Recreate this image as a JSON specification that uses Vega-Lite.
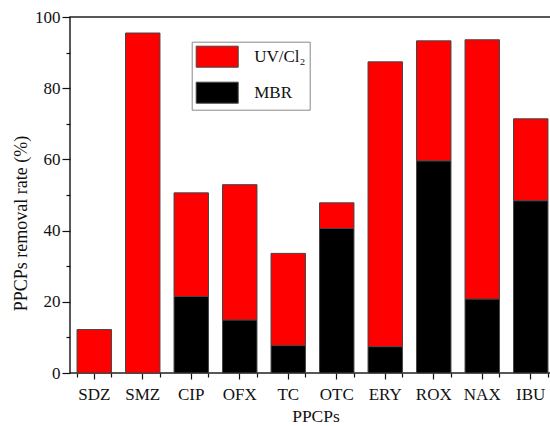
{
  "$schema": "https://vega.github.io/schema/vega-lite/v6.json",
  "autosize": {"type": "none"},
  "padding": {"left": 70, "top": 17, "right": 0, "bottom": 53},
  "width": 485,
  "height": 356,
  "background": "white",
  "config": {
    "font": "Liberation Serif",
    "view": {"stroke": "#222", "strokeWidth": 1.5},
    "axis": {"grid": false, "domain": false, "tickColor": "#111", "tickWidth": 1.2, "labelColor": "#111", "titleColor": "#111", "labelFont": "Liberation Serif", "titleFont": "Liberation Serif", "titleFontWeight": "normal"}
  },
  "data": {
    "values": [
      {"ppcp": "SDZ", "process": "MBR", "value": 0, "ord": 1},
      {"ppcp": "SDZ", "process": "UV/Cl₂", "value": 12.2, "ord": 2},
      {"ppcp": "SMZ", "process": "MBR", "value": 0, "ord": 1},
      {"ppcp": "SMZ", "process": "UV/Cl₂", "value": 95.5, "ord": 2},
      {"ppcp": "CIP", "process": "MBR", "value": 21.5, "ord": 1},
      {"ppcp": "CIP", "process": "UV/Cl₂", "value": 29.1, "ord": 2},
      {"ppcp": "OFX", "process": "MBR", "value": 14.9, "ord": 1},
      {"ppcp": "OFX", "process": "UV/Cl₂", "value": 38.0, "ord": 2},
      {"ppcp": "TC", "process": "MBR", "value": 7.7, "ord": 1},
      {"ppcp": "TC", "process": "UV/Cl₂", "value": 25.9, "ord": 2},
      {"ppcp": "OTC", "process": "MBR", "value": 40.6, "ord": 1},
      {"ppcp": "OTC", "process": "UV/Cl₂", "value": 7.2, "ord": 2},
      {"ppcp": "ERY", "process": "MBR", "value": 7.4, "ord": 1},
      {"ppcp": "ERY", "process": "UV/Cl₂", "value": 80.0, "ord": 2},
      {"ppcp": "ROX", "process": "MBR", "value": 59.6, "ord": 1},
      {"ppcp": "ROX", "process": "UV/Cl₂", "value": 33.7, "ord": 2},
      {"ppcp": "NAX", "process": "MBR", "value": 20.8, "ord": 1},
      {"ppcp": "NAX", "process": "UV/Cl₂", "value": 72.8, "ord": 2},
      {"ppcp": "IBU", "process": "MBR", "value": 48.4, "ord": 1},
      {"ppcp": "IBU", "process": "UV/Cl₂", "value": 23.0, "ord": 2}
    ]
  },
  "layer": [
    {
      "mark": {"type": "bar", "stroke": "#444", "strokeWidth": 1},
      "encoding": {
        "x": {
          "field": "ppcp", "type": "nominal",
          "sort": ["SDZ", "SMZ", "CIP", "OFX", "TC", "OTC", "ERY", "ROX", "NAX", "IBU"],
          "scale": {"paddingInner": 0.29, "paddingOuter": 0.145},
          "title": "PPCPs",
          "axis": {"orient": "bottom", "labelAngle": 0, "tickSize": 6, "labelPadding": 7, "labelFontSize": 17, "titleFontSize": 17.5, "titleBaseline": "alphabetic", "titleAlign": "center", "titleX": 245.5, "titleY": 48}
        },
        "y": {
          "field": "value", "type": "quantitative", "stack": "zero",
          "scale": {"domain": [0, 100], "nice": false},
          "title": "PPCPs removal rate (%)",
          "axis": {
            "values": [0, 10, 20, 30, 40, 50, 60, 70, 80, 90, 100],
            "labelExpr": "datum.value % 20 === 0 ? datum.label : ''",
            "tickSize": {"condition": {"test": "datum.value % 20 === 0", "value": 8}, "value": 4},
            "labelPadding": 2, "labelFontSize": 17, "titleFontSize": 18,
            "titleAngle": 270, "titleAlign": "center", "titleBaseline": "alphabetic", "titleX": -43.5, "titleY": 206
          }
        },
        "color": {
          "field": "process", "type": "nominal",
          "scale": {"domain": ["UV/Cl₂", "MBR"], "range": ["#ff0000", "#000000"]},
          "legend": {
            "orient": "none", "legendX": 121.7, "legendY": 24.7, "title": null,
            "symbolType": "M-2,-1H2V1H-2Z", "symbolSize": 441, "symbolOffset": 10.5,
            "symbolStrokeColor": "#444", "symbolStrokeWidth": 1,
            "labelOffset": 26, "rowPadding": 10, "padding": 4,
            "strokeColor": "#888", "fillColor": "white",
            "labelFontSize": 17, "labelFont": "Liberation Serif", "labelColor": "#111"
          }
        },
        "order": {"field": "ord", "type": "quantitative", "sort": "ascending"}
      }
    },
    {
      "mark": {"type": "rule", "opacity": 0},
      "encoding": {
        "x": {
          "field": "ppcp", "type": "nominal",
          "sort": ["SDZ", "SMZ", "CIP", "OFX", "TC", "OTC", "ERY", "ROX", "NAX", "IBU"],
          "title": null,
          "axis": {"orient": "bottom", "tickBand": "extent", "labels": false, "tickSize": 4}
        }
      }
    }
  ],
  "resolve": {"axis": {"x": "independent"}}
}
